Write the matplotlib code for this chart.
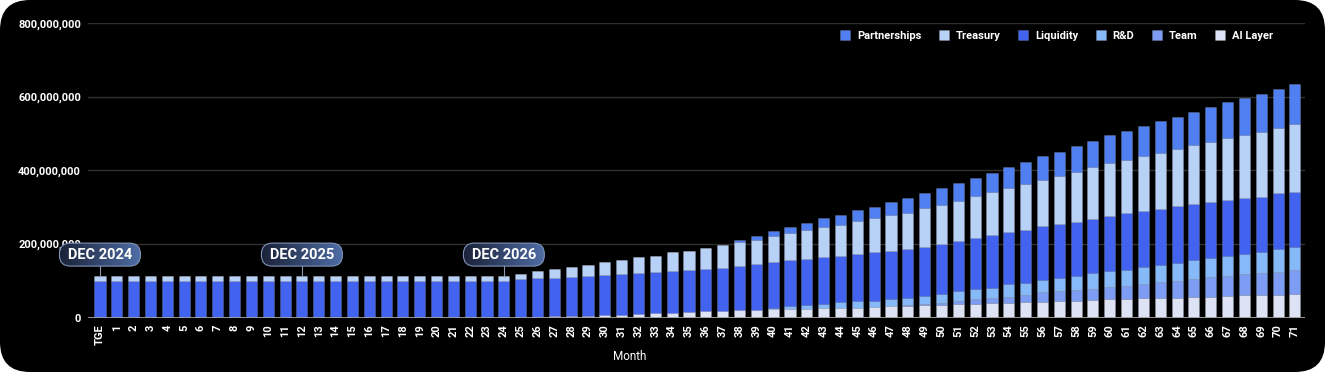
import matplotlib
matplotlib.use('Agg')
import matplotlib.pyplot as plt
from matplotlib.patches import FancyBboxPatch, Rectangle
from matplotlib.ticker import FuncFormatter
from matplotlib import transforms
import numpy as np

plt.rcParams['font.family'] = ['Roboto', 'DejaVu Sans']

months = ['TGE'] + [str(i) for i in range(1, 72)]

# unlocked tokens per month, in millions
ai_layer = [0] * 26 + [2, 3, 4, 5, 6, 8, 9, 11, 12, 14, 17, 18, 20, 21, 22, 23, 24, 25, 26, 27,
                       29, 31, 32, 34, 35, 37, 38, 39, 39, 41, 42, 44, 46, 47, 49, 50, 52, 53,
                       54, 55, 57, 59, 60, 61, 62, 64]
team = [0] * 48 + [1, 2, 4, 7, 12, 14, 18, 20, 26, 28, 29, 31, 34, 36, 39, 43, 45, 49, 52, 53,
                   57, 60, 62, 65]
rnd = [0] * 40 + [5, 9, 10, 13, 15, 17, 17, 18, 21, 23, 25, 27, 27, 28, 34, 34, 35, 35, 38, 43,
                  43, 44, 47, 48, 50, 53, 52, 55, 57, 58, 63, 63]
liquidity = [98] * 25 + [104, 105, 105, 107, 107, 110, 110, 112, 112, 114, 115, 115, 117, 121,
                         124, 123, 124, 125, 126, 127, 130, 133, 133, 132, 134, 137, 137, 140,
                         143, 142, 144, 145, 146, 148, 147, 150, 153, 151, 151, 153, 151, 152,
                         153, 151, 150, 151, 150]
treasury = [15] * 25 + [14, 19, 23, 27, 30, 34, 38, 44, 45, 51, 53, 56, 62, 63, 66, 71, 74, 79,
                        82, 84, 88, 91, 96, 99, 104, 106, 110, 114, 116, 120, 125, 127, 133, 135,
                        140, 143, 145, 150, 153, 155, 160, 165, 167, 170, 176, 178, 185]
partnerships = [0] * 38 + [8, 10, 13, 16, 18, 24, 26, 29, 31, 36, 39, 41, 44, 48, 49, 54, 56, 58,
                           64, 65, 71, 72, 76, 78, 81, 85, 89, 91, 94, 98, 102, 104, 106, 109]

# bottom to top
series = [('AI Layer', ai_layer, '#dde3f5'),
          ('Team', team, '#7d9cf3'),
          ('R&D', rnd, '#86b9f8'),
          ('Liquidity', liquidity, '#4263f0'),
          ('Treasury', treasury, '#b8d1f7'),
          ('Partnerships', partnerships, '#4f7ff0')]

callouts = [(0, 'DEC 2024'), (12, 'DEC 2025'), (24, 'DEC 2026')]

W, H = 1325, 372
fig = plt.figure(figsize=(W / 100, H / 100), dpi=100)
fig.patch.set_facecolor('white')
panel = FancyBboxPatch((0, 0), W / 100, H / 100, boxstyle='round,pad=0,rounding_size=0.3',
                       transform=fig.dpi_scale_trans, facecolor='black', edgecolor='none',
                       zorder=-10)
fig.patches.append(panel)

ax = fig.add_axes([88 / W, 1 - 317.5 / H, (1305 - 88) / W, (317.5 - 23.3) / H])
ax.set_facecolor('black')

x = np.arange(len(months))
bottom = np.zeros(len(months))
handles = {}
for name, vals, col in series:
    vals = np.array(vals, dtype=float)
    b = ax.bar(x, vals, 0.66, bottom=bottom, color=col, edgecolor=(1, 1, 1, 0.18),
               linewidth=0.5, label=name, zorder=3)
    handles[name] = b
    bottom += vals
totals = bottom

ax.set_xlim(-0.71, 71.6)
ax.set_ylim(0, 800)
ax.set_yticks([0, 200, 400, 600, 800])
ax.yaxis.set_major_formatter(FuncFormatter(lambda v, p: '{:,}'.format(int(v * 1e6))))
ax.yaxis.grid(True, color='#303030', lw=1, zorder=0)
ax.axhline(0, color='#a0a0a0', lw=1.3, zorder=4)
for s in ax.spines.values():
    s.set_visible(False)
ax.set_xticks(x)
ax.set_xticklabels(months, rotation=90)
ax.tick_params(axis='x', length=0, pad=5, labelsize=8, labelcolor='white')
ax.tick_params(axis='y', length=0, pad=5, labelsize=8, labelcolor='white')
for t in ax.get_xticklabels() + ax.get_yticklabels():
    t.set_fontweight('bold')

fig.text(630 / W, 1 - 356 / H, 'Month', color='white', fontsize=8.5, ha='center', va='center')

order = ['Partnerships', 'Treasury', 'Liquidity', 'R&D', 'Team', 'AI Layer']
leg = fig.legend([handles[n] for n in order], order, loc='center right',
                 bbox_to_anchor=(1273 / W, 1 - 35.7 / H), ncol=6, frameon=False,
                 fontsize=8, handlelength=0.9, handleheight=0.9, handletextpad=0.6,
                 columnspacing=1.6, borderpad=0, borderaxespad=0)
for t in leg.get_texts():
    t.set_color('white')
    t.set_fontweight('bold')

# month markers
y_box = 171
left_c = np.array(matplotlib.colors.to_rgb('#1a2238'))
right_c = np.array(matplotlib.colors.to_rgb('#4d6ba3'))
for xi, label in callouts:
    ax.plot([xi, xi], [totals[xi] + 1, y_box], color='#8c97ad', lw=0.8, zorder=5)
    trans = fig.dpi_scale_trans + transforms.ScaledTranslation(xi, y_box, ax.transData)
    w, h = 0.81, 0.23
    box = FancyBboxPatch((-w / 2, -h / 2), w, h, boxstyle='round,pad=0,rounding_size=0.11',
                         transform=trans, facecolor='none', edgecolor='#8193b8', lw=0.8,
                         zorder=8, clip_on=False)
    ax.add_patch(box)
    n = 40
    for i in range(n):
        c = left_c + (right_c - left_c) * i / (n - 1)
        r = Rectangle((-w / 2 + i * w / n, -h / 2), w / n * 1.05, h, transform=trans,
                      facecolor=c, edgecolor='none', zorder=7)
        r.set_clip_path(box)
        ax.add_patch(r)
    ax.text(xi, y_box, label, ha='center', va='center', color='white', fontsize=10.5,
            fontweight='bold', zorder=9, clip_on=False)

ax.set_xlim(-0.71, 71.6)
ax.set_ylim(0, 800)

fig.savefig('out.png', dpi=100, facecolor=fig.get_facecolor())
